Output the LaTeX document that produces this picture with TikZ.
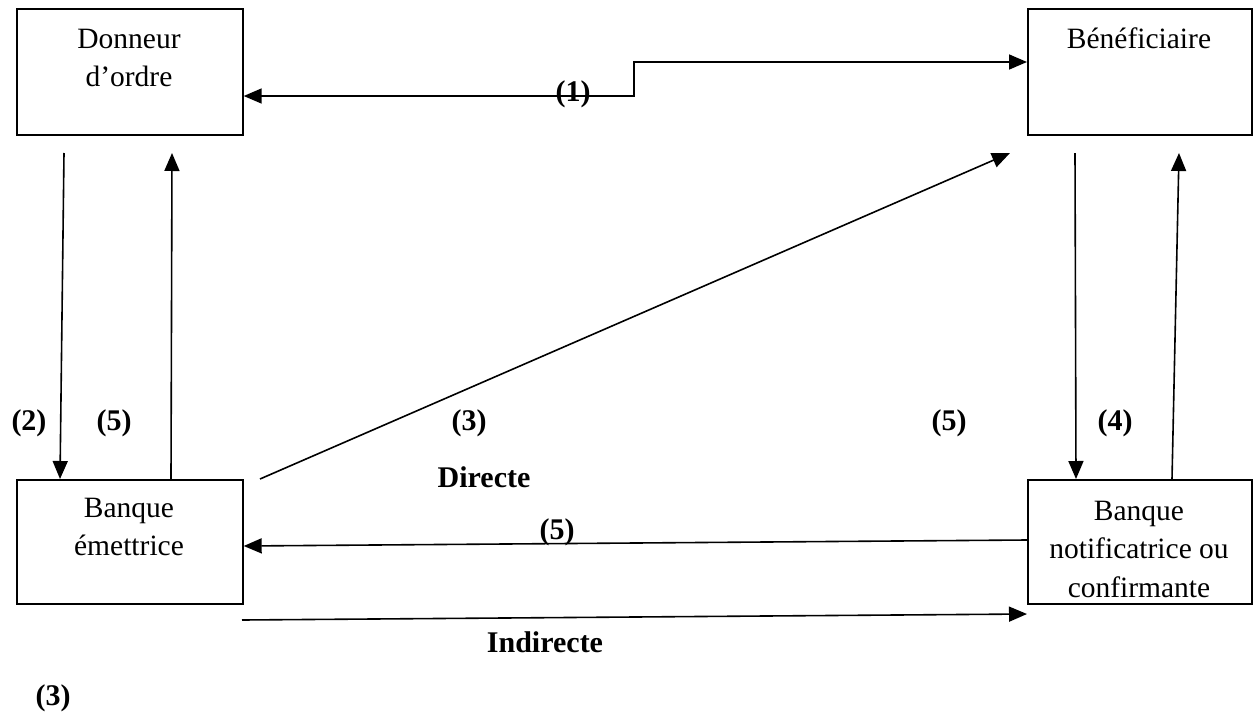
\documentclass[tikz,border=0pt]{standalone}
\usepackage{fontspec}
\setmainfont{Liberation Serif}
\usetikzlibrary{arrows.meta,calc}
\begin{document}
\begin{tikzpicture}[x=1pt,y=-1pt,
  box/.style={draw,line width=1.7pt,inner sep=0pt,anchor=north west},
  txt/.style={font=\fontsize{29.5}{38.5}\selectfont,align=center,inner sep=0pt},
  lbl/.style={font=\fontsize{30}{36}\selectfont\bfseries,inner sep=0pt},
  tip/.tip={Triangle[length=18pt,width=15pt]},
  arr/.style={line width=1.6pt,-tip},
  dbl/.style={line width=1.6pt,tip-tip}]
\useasboundingbox (0,0) rectangle (1253,715);
% boxes
\node[box,minimum width=226pt,minimum height=126pt] (don) at (16,8) {};
\node[box,minimum width=224pt,minimum height=126pt] (ben) at (1027,8) {};
\node[box,minimum width=226pt,minimum height=124pt] (bem) at (16,479) {};
\node[box,minimum width=224pt,minimum height=124pt] (bno) at (1027,479) {};
% box texts
\node[txt] (tdon) at (129,58) {Donneur\\d’ordre};
\node[txt] (tben) at (1139,38) {Bénéficiaire};
\node[txt] (tbem) at (129,527) {Banque\\émettrice};
\node[txt] (tbno) at (1139,549) {Banque\\notificatrice ou\\confirmante};
% free ends
\coordinate (s2) at (64,153);
\coordinate (e5a) at (172,153);
\coordinate (s4) at (1075,153);
\coordinate (e5b) at (1179,153);
\coordinate (e3) at (1010,153);
\coordinate (s3) at (260,479);
\coordinate (sind) at (242,620);
\coordinate (eind) at (1027,614);
% (1)
\draw[dbl] (don.east |- 0,96) -- (634,96) -- (634,62) -- (ben.west |- 0,62);
% verticals
\draw[arr] (s2) -- ($(bem.north west)+(44,0)$);
\draw[arr] ($(bem.north west)+(155,0)$) -- (e5a);
\draw[arr] (s4) -- ($(bno.north west)+(49,0)$);
\draw[arr] ($(bno.north west)+(145,0)$) -- (e5b);
% diagonal direct
\draw[arr] (s3) -- (e3);
% (5) bottom
\draw[arr] (bno.west |- 0,540) -- (bem.east |- 0,546);
% indirecte
\draw[arr] (sind) -- (eind);
% labels
\node[lbl] (l1) at (573,94) {(1)};
\node[lbl] (l2) at (29,423) {(2)};
\node[lbl] (l5a) at (114,423) {(5)};
\node[lbl] (l3) at (469,423) {(3)};
\node[lbl] (ldir) at (484,477) {Directe};
\node[lbl] (l5b) at (949,423) {(5)};
\node[lbl] (l4) at (1115,423) {(4)};
\node[lbl] (l5c) at (557,532) {(5)};
\node[lbl] (lind) at (545,642) {Indirecte};
\node[lbl] (l3b) at (53,698) {(3)};
\end{tikzpicture}
\end{document}
